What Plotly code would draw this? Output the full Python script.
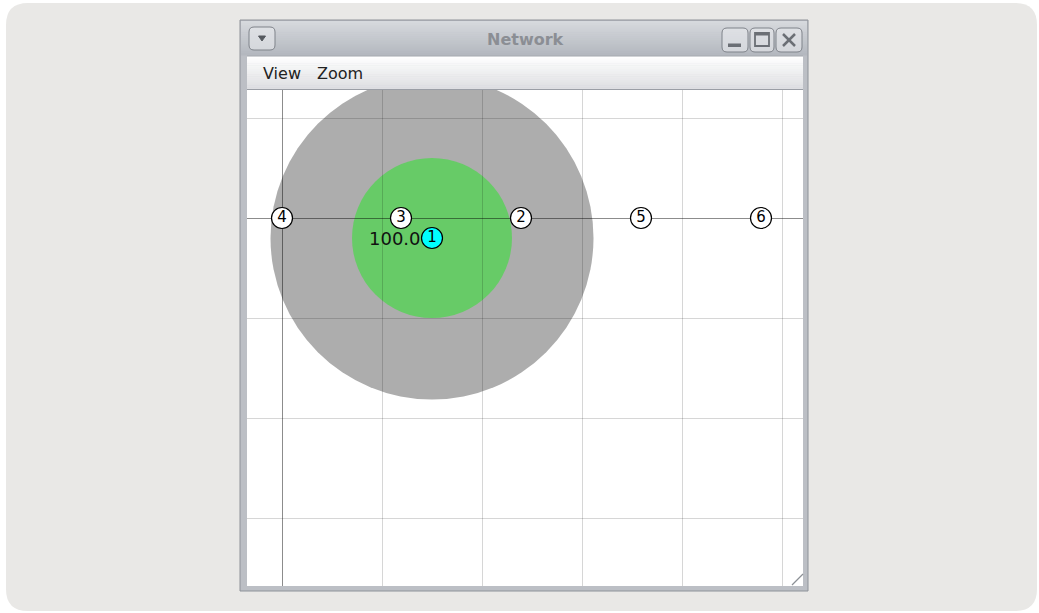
import plotly.graph_objects as go

# ---------------- data ----------------
node_ids = ["1", "2", "3", "4", "5", "6"]
node_x = [1.50, 2.39, 1.19, 0.00, 3.59, 4.79]
node_y = [-0.20, 0.00, 0.00, 0.00, 0.00, 0.00]
node_fill = ["#00ffff", "white", "white", "white", "white", "white"]
source_label = "100.0"
green_radius = 0.80
gray_radius = 1.615
window_title = "Network"
menu_items = ["View", "Zoom"]
menu_x = [261, 315]

# ---------------- geometry helpers (pixel -> paper) ----------------
W, H = 1039, 613
L, R, T, B = 247, 803, 90, 586


def px(x):
    return (x - L) / (R - L)


def py(y):
    return (B - y) / (B - T)


def rrect(x0, y0, x1, y1, r):
    return (f"M {px(x0 + r)},{py(y0)} L {px(x1 - r)},{py(y0)} "
            f"Q {px(x1)},{py(y0)} {px(x1)},{py(y0 + r)} L {px(x1)},{py(y1 - r)} "
            f"Q {px(x1)},{py(y1)} {px(x1 - r)},{py(y1)} L {px(x0 + r)},{py(y1)} "
            f"Q {px(x0)},{py(y1)} {px(x0)},{py(y1 - r)} L {px(x0)},{py(y0 + r)} "
            f"Q {px(x0)},{py(y0)} {px(x0 + r)},{py(y0)} Z")


def hexmix(c1, c2, t):
    a = [int(c1[i:i + 2], 16) for i in (1, 3, 5)]
    b = [int(c2[i:i + 2], 16) for i in (1, 3, 5)]
    return "#" + "".join(f"{round(a[k] + (b[k] - a[k]) * t):02x}" for k in range(3))


shapes = []


def prect(x0, y0, x1, y1, fill, line=None, lw=0, layer="below"):
    shapes.append(dict(type="rect", xref="paper", yref="paper",
                       x0=px(x0), x1=px(x1), y0=py(y1), y1=py(y0),
                       fillcolor=fill, line=dict(color=line or fill, width=lw),
                       layer=layer))


def pline(x0, y0, x1, y1, color, w=1, layer="above"):
    shapes.append(dict(type="line", xref="paper", yref="paper",
                       x0=px(x0), x1=px(x1), y0=py(y0), y1=py(y1),
                       line=dict(color=color, width=w), layer=layer))


def ppath(path, fill, line, lw=1, layer="below"):
    shapes.append(dict(type="path", xref="paper", yref="paper", path=path,
                       fillcolor=fill, line=dict(color=line, width=lw), layer=layer))


# background card
ppath(rrect(6, 3, 1037, 611, 22), "#e9e8e6", "#e9e8e6", 0)

# window frame
prect(240, 20, 808, 591, "#bcbfc5", "#8e9299", 1)

# title bar gradient
n = 18
for i in range(n):
    y0 = 21 + (55 - 21) * i / n
    y1 = 21 + (55 - 21) * (i + 1) / n + 0.5
    prect(241, y0, 807, y1, hexmix("#d6d9dd", "#b4b8bf", i / (n - 1)))

# menu bar gradient
for i in range(n):
    y0 = 56 + (89 - 56) * i / n
    y1 = 56 + (89 - 56) * (i + 1) / n + 0.5
    prect(247, y0, 803, y1, hexmix("#ffffff", "#dedfe2", i / (n - 1)))
pline(247, 56, 803, 56, "#a3a7ad", 1, "below")
pline(247, 89.5, 803, 89.5, "#9a9ea5", 1, "below")

# canvas
prect(247, 90, 803, 586, "white")

# title bar buttons
btn_fill = "rgba(232,234,237,0.6)"
btn_line = "#7f838a"
icon = "#6b6f75"
ppath(rrect(249, 27, 275, 50, 5), btn_fill, btn_line, 1, "above")
ppath(rrect(722, 28, 748, 52, 5), btn_fill, btn_line, 1, "above")
ppath(rrect(750, 28, 774, 52, 5), btn_fill, btn_line, 1, "above")
ppath(rrect(776, 28, 802, 52, 5), btn_fill, btn_line, 1, "above")
# dropdown arrow
ppath(f"M {px(258.5)},{py(36)} L {px(265.5)},{py(36)} L {px(262)},{py(41)} Z",
      "#55595f", "#55595f", 1, "above")
# minimize
prect(728, 43.5, 741, 47, icon, icon, 0, "above")
# maximize
prect(755, 33, 769, 46, "rgba(0,0,0,0)", icon, 1.8, "above")
prect(755, 33, 769, 35.5, icon, icon, 0, "above")
# close
pline(783, 34, 795, 46, icon, 2.5)
pline(783, 46, 795, 34, icon, 2.5)

# resize grip
pline(792, 585, 803, 574, "#8c9096", 1.2)

# coverage circles (data coordinates)
cx, cy = node_x[0], node_y[0]
shapes.append(dict(type="circle", xref="x", yref="y",
                   x0=cx - gray_radius, x1=cx + gray_radius,
                   y0=cy - gray_radius, y1=cy + gray_radius,
                   fillcolor="#adadad", line=dict(width=0), layer="below"))
shapes.append(dict(type="circle", xref="x", yref="y",
                   x0=cx - green_radius, x1=cx + green_radius,
                   y0=cy - green_radius, y1=cy + green_radius,
                   fillcolor="#67cb67", line=dict(width=0), layer="below"))

fig = go.Figure()

# nodes
fig.add_trace(go.Scatter(
    x=node_x, y=node_y, mode="markers+text", text=node_ids,
    textposition="middle center",
    textfont=dict(family="DejaVu Sans", size=15, color="black"),
    marker=dict(size=21, color=node_fill, line=dict(color="black", width=1.2)),
    hoverinfo="skip", showlegend=False, cliponaxis=False))

annotations = [
    dict(xref="x", yref="y", x=cx, y=cy, text=source_label, showarrow=False,
         xanchor="right", yanchor="middle", xshift=-9,
         font=dict(family="DejaVu Sans", size=18, color="#111111")),
    dict(xref="paper", yref="paper", x=px(525), y=py(39), text=f"<b>{window_title}</b>",
         showarrow=False, font=dict(family="DejaVu Sans", size=16, color="#8b8e94"),
         xanchor="center", yanchor="middle"),
]
for name, mx in zip(menu_items, menu_x):
    annotations.append(dict(xref="paper", yref="paper", x=px(mx), y=py(73), text=name,
                            showarrow=False, xanchor="left", yanchor="middle",
                            font=dict(family="DejaVu Sans", size=16, color="#222222")))

x0_px = 282
y0_px = 218
fig.update_layout(
    width=W, height=H,
    margin=dict(l=L, r=W - R, t=T, b=H - B, pad=0),
    paper_bgcolor="white",
    plot_bgcolor="rgba(0,0,0,0)",
    shapes=shapes,
    annotations=annotations,
    xaxis=dict(range=[(L - x0_px) / 100, (R - x0_px) / 100], dtick=1, tick0=0,
               showgrid=True, gridcolor="rgba(0,0,0,0.16)", gridwidth=1.3,
               zeroline=True, zerolinecolor="rgba(0,0,0,0.45)", zerolinewidth=1.3,
               showticklabels=False, ticks="", showline=False, fixedrange=True),
    yaxis=dict(range=[(y0_px - B) / 100, (y0_px - T) / 100], dtick=1, tick0=0,
               showgrid=True, gridcolor="rgba(0,0,0,0.16)", gridwidth=1.3,
               zeroline=True, zerolinecolor="rgba(0,0,0,0.45)", zerolinewidth=1.3,
               showticklabels=False, ticks="", showline=False, fixedrange=True),
)

fig.write_html("out.html", config={"displayModeBar": False},
               post_script="document.body.style.margin='0';document.body.style.overflow='hidden';")
